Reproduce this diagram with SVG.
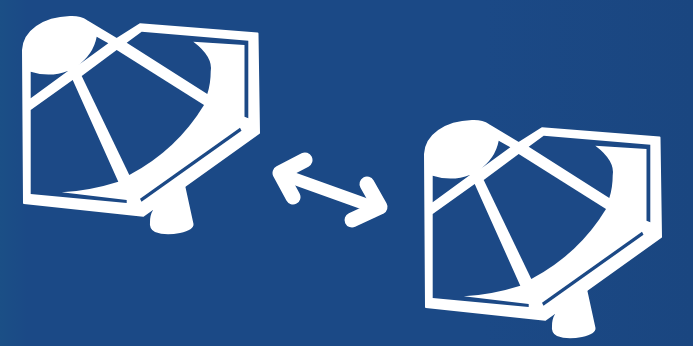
<svg xmlns="http://www.w3.org/2000/svg" width="693" height="346" viewBox="0 0 693 346">
<defs>
<style>.w{fill:#fff}.h{fill:#1b4986}.a{fill:none;stroke:#fff;stroke-linecap:round;stroke-linejoin:round}</style>
<linearGradient id="bg" x1="0" y1="0" x2="1" y2="0"><stop offset="0" stop-color="#1b4f86"/><stop offset=".04" stop-color="#1b4986"/><stop offset=".7" stop-color="#1b4986"/><stop offset="1" stop-color="#1a4680"/></linearGradient>
<filter id="soft" x="-5%" y="-5%" width="110%" height="110%"><feGaussianBlur stdDeviation="0.6"/></filter>
<g id="scope">
<path class="w" d="M153 208 L185 185 L193.500 224 Q194 230 180 233 Q165 236 155 232 Q149 229 150 222 Q150 215 153 210Z"/>
<path class="w" stroke="#fff" stroke-width="2" stroke-linejoin="round" d="M23 50 C24 31 43 18 70 17 Q80 16.500 86.700 21 L116.700 39 L140 24.300 L257.500 33.500 L259 133 L143.300 215.700 L24 203Z"/>
<path class="h" d="M30.700 71.700 Q50 78 68.300 70.700 L30.700 98.300Z"/>
<path class="h" d="M30.700 110 L72.700 80 L118.300 181.700 Q90 190.700 61.700 192.300 L126.700 200 L126.700 203 L30.700 194Z"/>
<path class="h" d="M81.700 76 L116.700 50 L204 105 Q176.700 150 129.300 175Z"/>
<path class="h" d="M96.700 36.700 L108.300 43.300 L76 66.700 Q93.300 55 96.700 36.700Z"/>
<path class="h" d="M126.700 42.700 L141.700 31.700 L248.300 40.700 L248.300 118.300 L244.500 116.700 L244.500 45 L193.300 41.700 Q213.300 56.700 210.700 71.700 Q210.700 83.300 207.300 94Z"/>
<path class="h" d="M140 198.800 L240 127.800 L241.500 130.700 L141.500 201.800Z"/>
</g>
</defs>
<rect width="693" height="346" fill="url(#bg)"/>
<g filter="url(#soft)">
<g id="telescope-left"><use href="#scope"/></g>
<g id="telescope-right"><use href="#scope" x="402" y="104"/></g>
<g id="connectors">
<path class="a" stroke-width="12" d="M284 175 L376 208"/>
<path class="a" stroke-width="15" d="M305 160 L280 173 L293 197"/>
<path class="a" stroke-width="15" d="M367 184 L380 207 L352 220"/>
</g>
</g>
</svg>
